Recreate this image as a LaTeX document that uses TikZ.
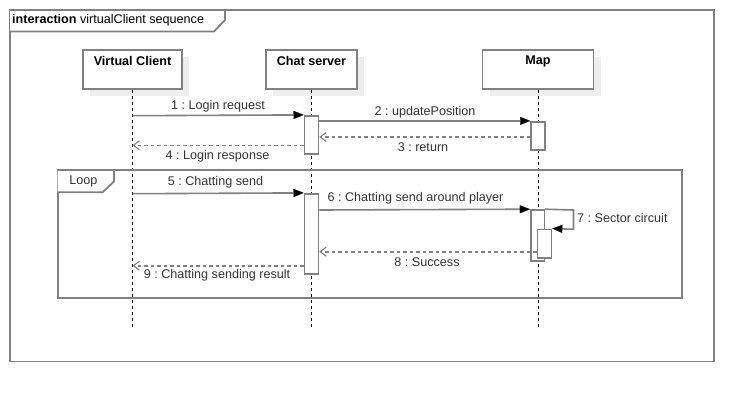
\documentclass[tikz,border=0pt]{standalone}
\usepackage{fontspec}
\setmainfont{Liberation Sans}
\usetikzlibrary{arrows.meta,calc}
\definecolor{linegray}{HTML}{808080}
\definecolor{shadowgray}{HTML}{EEEEEE}
\definecolor{txt}{HTML}{333333}
\frenchspacing
\begin{document}
\begin{tikzpicture}[x=1pt,y=-1pt,
  every node/.style={font=\fontsize{12.6}{14}\selectfont, text=txt},
  frame/.style={draw=linegray, line width=1.8pt},
  lbox/.style={draw=linegray, line width=1.8pt, fill=white, rectangle, minimum height=39pt, inner sep=0pt},
  shadowbox/.style={fill=shadowgray, draw=none, rectangle, minimum height=39pt, inner sep=0pt},
  boldlab/.style={anchor=center, yshift=-12pt, inner sep=0pt, font=\fontsize{12.6}{14}\selectfont\bfseries, text=black},
  act/.style={draw=linegray, line width=1.6pt, fill=white, rectangle, minimum width=14pt, inner sep=0pt},
  lifeline/.style={draw=black, line width=0.8pt, dash pattern=on 3pt off 3pt},
  msg/.style={draw=linegray, line width=1.6pt, -{Triangle[length=10pt,width=8pt,fill=black,color=black,line width=0.1pt]}},
  ret/.style={draw=linegray, line width=1.6pt, dash pattern=on 3.5pt off 3pt, -{Straight Barb[length=6pt,width=9pt,color=linegray,line width=1.1pt]}},
  mlab/.style={inner sep=0pt}
]
\useasboundingbox (0,0) rectangle (754,402);

% outer frame
\draw[frame] (10,10) rectangle (714,361.5);
\draw[frame, fill=white] (10,10) -- (225,10) -- (225,20) -- (214,31.5) -- (10,31.5);
\node[anchor=west, inner sep=0pt, text=black] (title) at (12,20.5) {\textbf{interaction} virtualClient sequence};

% lifeline boxes with shadows
\node[shadowbox, minimum width=99pt] (vcs) at (139,76.5) {};
\node[shadowbox, minimum width=91pt] (css) at (318.5,76.5) {};
\node[shadowbox, minimum width=111pt] (mps) at (545,76.5) {};
\node[lbox, minimum width=99pt, label={[boldlab]north:Virtual Client}] (vc) at (132.5,69.5) {};
\node[lbox, minimum width=91pt, label={[boldlab]north:Chat server}] (cs) at (311.5,69.5) {};
\node[lbox, minimum width=111pt, label={[boldlab]north:Map}] (mp) at (538,69.5) {};

% lifeline ends
\coordinate (vce) at (vc.south |- 0,326.7);
\coordinate (cse) at (cs.south |- 0,326.7);
\coordinate (mpe) at (mp.south |- 0,326.7);
\draw[lifeline] (vc.south) -- (vce);
\draw[lifeline] (cs.south) -- (cse);
\draw[lifeline] (mp.south) -- (mpe);

% loop frame
\draw[frame] (57.7,170) rectangle (682.3,297.7);
\draw[frame, fill=white] (57.7,170) -- (114,170) -- (114,181.5) -- (102.5,192.3) -- (57.7,192.3);
\node[inner sep=0pt] (looplab) at (83.3,181) {Loop};

% activations
\node[act, minimum height=38.3pt] (a1) at (311.5,134.85) {};
\node[act, minimum height=28.3pt] (m1) at (538,135.85) {};
\node[act, minimum height=80.3pt] (a2) at (311.5,233.85) {};
\node[act, minimum height=51pt, minimum width=13.6pt] (m2) at (537.5,235.5) {};
\node[act, minimum height=28.4pt] (m3) at (544.5,243.5) {};

% message end coordinates
\coordinate (m1s) at (vc.south |- 0,115.7);
\coordinate (m2s) at ($(a1.north east)+(0,6)$);
\coordinate (m2e) at (m1.north west);
\coordinate (m3s) at ($(m1.west |- 0,137)$);
\coordinate (m3e) at ($(a1.east |- 0,137)$);
\coordinate (m4s) at ($(a1.west |- 0,145.3)$);
\coordinate (m4e) at (vc.south |- 0,145.3);
\coordinate (m5s) at (vc.south |- 0,193.7);
\coordinate (m6s) at ($(a2.east |- 0,210)$);
\coordinate (m7c1) at (573.5,210);
\coordinate (m7c2) at (573.5,229.3);
\coordinate (m8s) at ($(m3.west |- 0,251.7)$);
\coordinate (m8e) at ($(a2.east |- 0,251.7)$);
\coordinate (m9s) at ($(a2.west |- 0,265.7)$);
\coordinate (m9e) at (vc.south |- 0,265.7);

% messages
\draw[msg] (m1s) -- (a1.north west);
\draw[msg] (m2s) -- (m2e);
\draw[ret] (m3s) -- (m3e);
\draw[ret] (m4s) -- (m4e);
\draw[msg] (m5s) -- (a2.north west);
\draw[msg] (m6s) -- (m2.north west);
\draw[msg] (m2.north east) -- (m7c1) -- (m7c2) -- (m3.north east);
\draw[ret] (m8s) -- (m8e);
\draw[ret] (m9s) -- (m9e);

% labels
\node[mlab] (l1) at (218,106) {1 : Login request};
\node[mlab] (l2) at (425,112) {2 : updatePosition};
\node[mlab] (l3) at (423,147) {3 : return};
\node[mlab] (l4) at (217.5,156) {4 : Login response};
\node[mlab] (l5) at (215.5,182.7) {5 : Chatting send};
\node[mlab] (l6) at (415.5,198.3) {6 : Chatting send around player};
\node[mlab, anchor=west] (l7) at (577,218.3) {7 : Sector circuit};
\node[mlab] (l8) at (427,261.7) {8 : Success};
\node[mlab] (l9) at (217,275.7) {9 : Chatting sending result};
\end{tikzpicture}
\end{document}
